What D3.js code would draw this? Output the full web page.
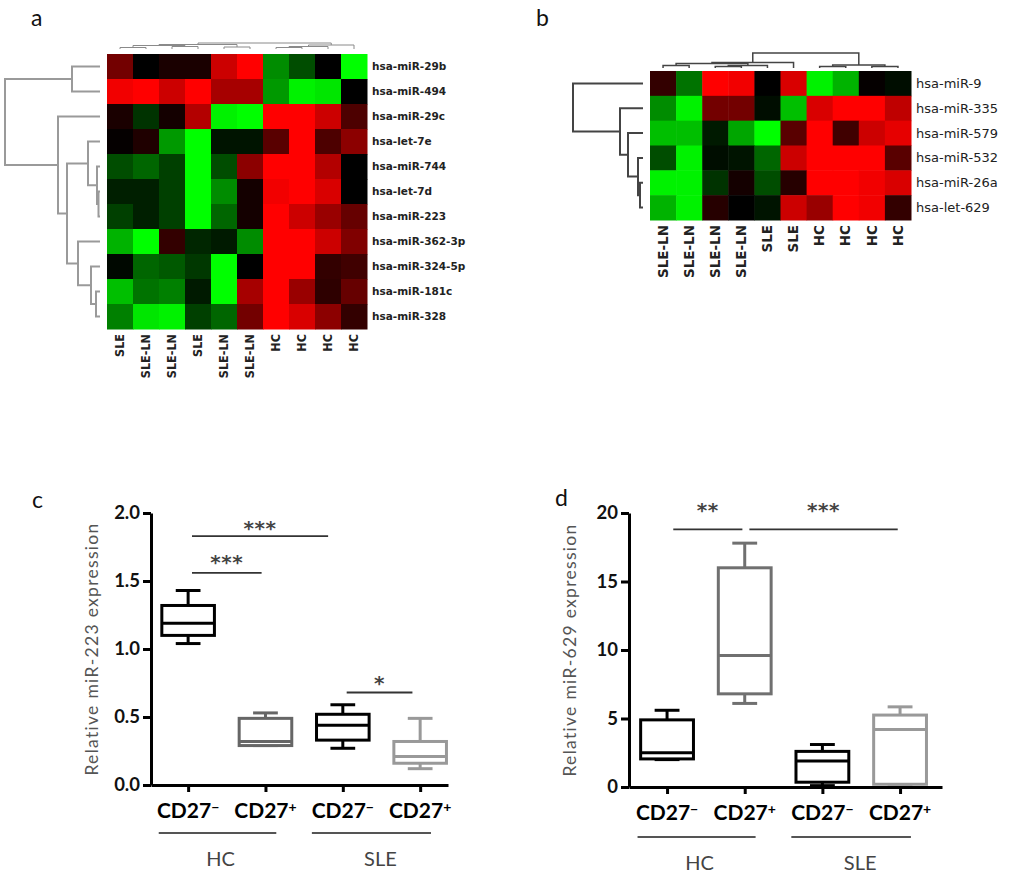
<!DOCTYPE html>
<html>
<head>
<meta charset="utf-8">
<script src="https://cdnjs.cloudflare.com/ajax/libs/d3/7.8.5/d3.min.js"></script>
<style>
body { margin: 0; background: #fff; }
</style>
</head>
<body>
<div id="chart"></div>
<script>
// ---- panel a heatmap data (-1 = green, 0 = black, 1 = red) ----
var rowsA = ["hsa-miR-29b", "hsa-miR-494", "hsa-miR-29c", "hsa-let-7e", "hsa-miR-744", "hsa-let-7d",
             "hsa-miR-223", "hsa-miR-362-3p", "hsa-miR-324-5p", "hsa-miR-181c", "hsa-miR-328"];
var colsA = ["SLE", "SLE-LN", "SLE-LN", "SLE", "SLE-LN", "SLE-LN", "HC", "HC", "HC", "HC"];
var valsA = [
    [0.45, 0, 0.1, 0.1, 0.8, 1, -0.55, -0.3, 0, -1],
    [0.95, 1, 0.8, 1, 0.65, 0.65, -0.6, -0.95, -0.9, 0],
    [0.1, -0.2, 0.08, 0.7, -0.95, -1, 1, 1, 0.8, 0.3],
    [0.02, 0.12, -0.6, -1, -0.08, -0.08, 0.35, 1, 0.3, 0.55],
    [-0.3, -0.4, -0.25, -1, -0.3, 0.55, 1, 1, 0.7, 0],
    [-0.12, -0.12, -0.25, -1, -0.55, 0.08, 0.95, 1, 0.85, 0],
    [-0.25, -0.12, -0.25, -1, -0.4, 0.08, 1, 0.8, 0.6, 0.4],
    [-0.7, -1, 0.2, -0.15, -0.1, -0.55, 1, 1, 0.8, 0.5],
    [-0.03, -0.4, -0.35, -0.22, -1, 0, 1, 1, 0.2, 0.25],
    [-0.75, -0.45, -0.5, -0.1, -1, 0.65, 1, 0.6, 0.18, 0.4],
    [-0.5, -0.9, -0.95, -0.25, -0.4, 0.45, 1, 0.85, 0.55, 0.2]
];
// dendrograms: [left, right, height], leaves are row / column indices
var rowTreeA = [[0, 1, 28], [2, [[3, [4, [5, 6, 1.5], 3], 12], [7, [8, [9, 10, 4], 9], 22], 33], 42], 95];
var colTreeA = [[[[0, 1, 1.5], [2, 3, 2.5], 3.5], [4, 5, 2], 4.5], [[[6, 7, 1.5], 8, 2.5], 9, 4], 6];

// ---- panel b heatmap data ----
var rowsB = ["hsa-miR-9", "hsa-miR-335", "hsa-miR-579", "hsa-miR-532", "hsa-miR-26a", "hsa-let-629"];
var colsB = ["SLE-LN", "SLE-LN", "SLE-LN", "SLE-LN", "SLE", "SLE", "HC", "HC", "HC", "HC"];
var valsB = [
    [0.2, -0.45, 1, 0.95, 0, 0.85, -0.95, -0.7, 0.02, -0.05],
    [-0.55, -0.95, 0.45, 0.45, -0.05, -0.75, 0.85, 1, 1, 0.75],
    [-0.75, -0.75, -0.1, -0.65, -1, 0.35, 1, 0.25, 0.8, 0.9],
    [-0.3, -0.95, -0.05, -0.08, -0.4, 0.8, 1, 1, 1, 0.35],
    [-0.95, -0.95, -0.2, 0.08, -0.3, 0.15, 1, 1, 0.95, 0.85],
    [-0.7, -0.95, 0.15, 0, -0.08, 0.8, 0.6, 1, 0.95, 0.2]
];
var rowTreeB = [0, [1, [2, [3, [4, 5, 3], 5], 15], 23], 70];
var colTreeB = [[[[0, 1, 2.5], [[2, 3, 1.5], 4, 2.5], 4.5], 5, 5.5], [[6, 7, 1.5], [8, 9, 1.5], 3], 15];

// ---- box plots ----
var groupNames = ["HC", "SLE"];
var tickBase = ["CD27", "CD27", "CD27", "CD27"];
var tickSup = ["\u2212", "+", "\u2212", "+"];

var cTicks = [0, 0.5, 1.0, 1.5, 2.0];
var cLow = [1.04, 0.29, 0.27, 0.12];
var cQ1 = [1.10, 0.29, 0.33, 0.16];
var cMed = [1.19, 0.32, 0.44, 0.21];
var cQ3 = [1.32, 0.49, 0.52, 0.32];
var cHigh = [1.43, 0.53, 0.59, 0.49];
var cColors = ["#000", "#666", "#000", "#999"];
// significance: from, to (group index units), line value, star value, label
var cSig = [
    { x1: 0.05, x2: 1.81, y: 1.83, ty: 1.93, t: "***" },
    { x1: 0.05, x2: 0.95, y: 1.56, ty: 1.68, t: "***" },
    { x1: 2.05, x2: 2.90, y: 0.68, ty: 0.79, t: "*" }
];

var dTicks = [0, 5, 10, 15, 20];
var dLow = [2.0, 6.1, 0.1, 0.2];
var dQ1 = [2.05, 6.8, 0.35, 0.2];
var dMed = [2.5, 9.6, 1.9, 4.2];
var dQ3 = [4.9, 16.0, 2.6, 5.25];
var dHigh = [5.6, 17.8, 3.1, 5.85];
var dColors = ["#000", "#707070", "#000", "#999"];
var dSig = [
    { x1: 0.08, x2: 0.97, y: 18.8, ty: 20.6, t: "**" },
    { x1: 1.06, x2: 2.97, y: 18.8, ty: 20.6, t: "***" }
];

var svg = d3.select("#chart").append("svg").attr("width", 1024).attr("height", 892)
    .style("background", "#fff");

var heatColor = d3.scaleLinear().domain([-1, 0, 1]).range(["#00ff00", "#000000", "#ff0000"]);

// draw a dendrogram, recursion returns the node position
function drawTree(g, tree, leafPos, hScale, orient) {
    function walk(node) {
        if (typeof node === "number") return { p: leafPos(node), h: 0 };
        var a = walk(node[0]), b = walk(node[1]), h = node[2], d;
        if (orient === "left")
            d = "M" + hScale(a.h) + "," + a.p + "H" + hScale(h) + "V" + b.p + "H" + hScale(b.h);
        else
            d = "M" + a.p + "," + hScale(a.h) + "V" + hScale(h) + "H" + b.p + "V" + hScale(b.h);
        g.append("path").attr("d", d);
        return { p: (a.p + b.p) / 2, h: h };
    }
    walk(tree);
}

function drawHeatmap(o) {
    var g = svg.append("g");
    var x = d3.scaleBand().domain(d3.range(o.cols.length)).range(o.xr);
    var y = d3.scaleBand().domain(d3.range(o.rows.length)).range(o.yr);

    o.vals.forEach(function (row, i) {
        g.selectAll(null).data(row).enter().append("rect")
            .attr("x", (d, j) => x(j))
            .attr("y", y(i))
            .attr("width", x.bandwidth() + 0.5)
            .attr("height", y.bandwidth() + 0.5)
            .attr("fill", d => heatColor(d));
    });

    g.selectAll(".rl").data(o.rows).enter().append("text")
        .attr("x", o.xr[1] + 5)
        .attr("y", (d, i) => y(i) + y.bandwidth() / 2)
        .attr("dy", "0.35em")
        .style("font-family", "DejaVu Sans, sans-serif")
        .style("font-size", o.rowFont)
        .style("font-weight", o.rowWeight)
        .attr("fill", "#222")
        .text(d => d);

    g.selectAll(".cl").data(o.cols).enter().append("text")
        .attr("transform", (d, j) => "translate(" + (x(j) + x.bandwidth() / 2) + "," + (o.yr[1] + 5) + ") rotate(-90)")
        .attr("dy", "0.35em")
        .attr("text-anchor", "end")
        .style("font-family", "DejaVu Sans, sans-serif")
        .style("font-stretch", o.colStretch)
        .style("font-size", o.colFont)
        .style("font-weight", "bold")
        .attr("fill", "#222")
        .text(d => d);

    var rt = svg.append("g").attr("fill", "none").attr("stroke", o.rowTreeColor).attr("stroke-width", o.rowTreeW);
    drawTree(rt, o.rowTree, i => y(i) + y.bandwidth() / 2,
        d3.scaleLinear().domain([0, o.rowTreeMax]).range(o.rowTreeRange), "left");

    var ct = svg.append("g").attr("fill", "none").attr("stroke", o.colTreeColor).attr("stroke-width", o.colTreeW);
    drawTree(ct, o.colTree, j => x(j) + x.bandwidth() / 2,
        d3.scaleLinear().domain([0, o.colTreeMax]).range(o.colTreeRange), "top");
}

drawHeatmap({
    rows: rowsA, cols: colsA, vals: valsA, xr: [107, 367], yr: [54, 329],
    rowFont: "10.5px", rowWeight: "bold", colFont: "12.5px", colStretch: "condensed",
    rowTree: rowTreeA, rowTreeMax: 95, rowTreeRange: [100, 5], rowTreeColor: "#9a9a9a", rowTreeW: 2,
    colTree: colTreeA, colTreeMax: 6, colTreeRange: [49, 43], colTreeColor: "#8a8a8a", colTreeW: 1
});

drawHeatmap({
    rows: rowsB, cols: colsB, vals: valsB, xr: [650, 911], yr: [71, 220],
    rowFont: "13px", rowWeight: "normal", colFont: "13.5px", colStretch: "normal",
    rowTree: rowTreeB, rowTreeMax: 70, rowTreeRange: [643, 573], rowTreeColor: "#444", rowTreeW: 2,
    colTree: colTreeB, colTreeMax: 15, colTreeRange: [68, 53], colTreeColor: "#444", colTreeW: 1.5
});

function drawBoxPanel(o) {
    var g = svg.append("g");
    var x = d3.scaleLinear().domain(o.xd).range(o.xr);
    var y = d3.scaleLinear().domain([o.ticks[0], o.ticks[o.ticks.length - 1]]).range(o.yr);
    var bw = x(0.68) - x(0), cw = x(0.32) - x(0);

    var ya = g.append("g").attr("transform", "translate(" + o.xr[0] + ",0)")
        .call(d3.axisLeft(y).tickValues(o.ticks).tickSize(8).tickSizeOuter(0).tickPadding(3).tickFormat(o.fmt));
    var xa = g.append("g").attr("transform", "translate(0," + o.yr[0] + ")")
        .call(d3.axisBottom(x).tickValues([0, 1, 2, 3]).tickSize(7).tickSizeOuter(0).tickFormat(""));
    [ya, xa].forEach(function (a) {
        a.select(".domain").attr("stroke", "#000").attr("stroke-width", 3);
        a.selectAll(".tick line").attr("stroke", "#000").attr("stroke-width", 3);
    });
    ya.selectAll(".tick text")
        .style("font-family", "Lato, sans-serif").style("font-size", "18.5px").style("font-weight", "bold")
        .attr("fill", "#111");

    // x tick labels with superscript sign
    var tl = g.selectAll(".xl").data(tickBase).enter().append("text")
        .attr("x", (d, i) => x(i))
        .attr("y", o.yr[0] + 33)
        .attr("text-anchor", "middle")
        .style("font-family", "Lato, sans-serif").style("font-size", "21px").style("font-weight", "bold")
        .attr("fill", "#000");
    tl.append("tspan").text(d => d);
    tl.append("tspan").attr("dy", "-0.45em").style("font-size", "14px").text((d, i) => tickSup[i]);

    // boxes
    var bx = g.selectAll(".box").data(o.med).enter().append("g")
        .attr("fill", "none").attr("stroke-width", 3)
        .attr("stroke", (d, i) => o.colors[i]);
    bx.append("line").attr("x1", (d, i) => x(i)).attr("x2", (d, i) => x(i))
        .attr("y1", (d, i) => y(o.q3[i])).attr("y2", (d, i) => y(o.high[i]));
    bx.append("line").attr("x1", (d, i) => x(i)).attr("x2", (d, i) => x(i))
        .attr("y1", (d, i) => y(o.q1[i])).attr("y2", (d, i) => y(o.low[i]));
    bx.append("line").attr("x1", (d, i) => x(i) - cw / 2).attr("x2", (d, i) => x(i) + cw / 2)
        .attr("y1", (d, i) => y(o.high[i])).attr("y2", (d, i) => y(o.high[i]));
    bx.append("line").attr("x1", (d, i) => x(i) - cw / 2).attr("x2", (d, i) => x(i) + cw / 2)
        .attr("y1", (d, i) => y(o.low[i])).attr("y2", (d, i) => y(o.low[i]));
    bx.append("rect").attr("x", (d, i) => x(i) - bw / 2).attr("width", bw)
        .attr("y", (d, i) => y(o.q3[i])).attr("height", (d, i) => y(o.q1[i]) - y(o.q3[i]))
        .attr("fill", "#fff");
    bx.append("line").attr("x1", (d, i) => x(i) - bw / 2).attr("x2", (d, i) => x(i) + bw / 2)
        .attr("y1", d => y(d)).attr("y2", d => y(d));

    // significance bars
    g.selectAll(".sig").data(o.sig).enter().append("line")
        .attr("x1", d => x(d.x1)).attr("x2", d => x(d.x2))
        .attr("y1", d => y(d.y)).attr("y2", d => y(d.y))
        .attr("stroke", "#333").attr("stroke-width", 1.8);
    g.selectAll(".star").data(o.sig).enter().append("text")
        .attr("x", d => x((d.x1 + d.x2) / 2))
        .attr("y", d => y(d.ty) + 12)
        .attr("text-anchor", "middle")
        .style("font-family", "DejaVu Sans, sans-serif").style("font-size", "20px").style("font-weight", "bold")
        .style("letter-spacing", "0.5px")
        .attr("fill", "#444")
        .text(d => d.t);

    // group bars and labels
    var grp = [[-0.38, 1.14], [1.6, 3.14]];
    g.selectAll(".gl").data(grp).enter().append("line")
        .attr("x1", d => x(d[0])).attr("x2", d => x(d[1]))
        .attr("y1", o.groupY).attr("y2", o.groupY)
        .attr("stroke", "#555").attr("stroke-width", 2);
    g.selectAll(".gt").data(groupNames).enter().append("text")
        .attr("x", (d, i) => x((grp[i][0] + grp[i][1]) / 2) + 3 + i * 6)
        .attr("y", o.groupY + 33)
        .attr("text-anchor", "middle")
        .style("font-family", "Lato, sans-serif").style("font-size", "20px")
        .attr("fill", "#444")
        .text(d => d);

    g.append("text")
        .attr("transform", "translate(" + o.labelX + "," + (o.yr[0] + o.yr[1]) / 2 + ") rotate(-90)")
        .attr("dy", "0.35em")
        .attr("text-anchor", "middle")
        .style("font-family", "Lato, sans-serif").style("font-size", "17.5px")
        .style("letter-spacing", "1.3px")
        .attr("fill", "#555")
        .text(o.label);
}

drawBoxPanel({
    xd: [-0.48, 3.36], xr: [151, 448], yr: [785, 513], ticks: cTicks, fmt: d3.format(".1f"),
    low: cLow, q1: cQ1, med: cMed, q3: cQ3, high: cHigh, colors: cColors, sig: cSig,
    groupY: 833, labelX: 92, label: "Relative miR-223 expression"
});

drawBoxPanel({
    xd: [-0.49, 3.54], xr: [629, 942], yr: [787, 513], ticks: dTicks, fmt: d3.format("d"),
    low: dLow, q1: dQ1, med: dMed, q3: dQ3, high: dHigh, colors: dColors, sig: dSig,
    groupY: 837, labelX: 570, label: "Relative miR-629 expression"
});

// panel letters
var letters = [["a", 31, 26], ["b", 536, 26], ["c", 32, 508], ["d", 555, 506]];
svg.selectAll(".letter").data(letters).enter().append("text")
    .attr("x", d => d[1]).attr("y", d => d[2])
    .style("font-family", "Lato, sans-serif").style("font-size", "23px")
    .attr("fill", "#111")
    .text(d => d[0]);
</script>
</body>
</html>
